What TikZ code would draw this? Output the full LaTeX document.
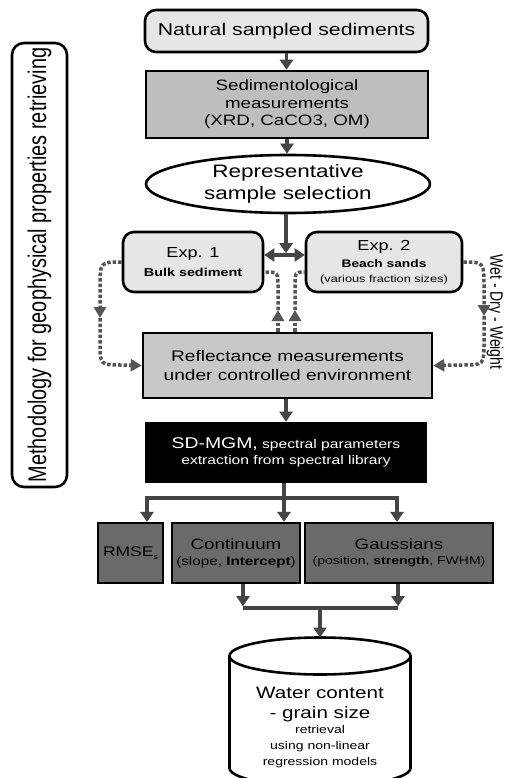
\documentclass[tikz,border=0pt]{standalone}
\usepackage{fontspec}
\usetikzlibrary{arrows.meta,shapes.geometric}
\newfontfamily\hfont[FakeStretch=1.25]{Liberation Sans}
\newfontfamily\vfont[FakeStretch=0.78]{Liberation Sans}
\newcommand\myfs[2]{\fontsize{#1}{#2}\selectfont}
\definecolor{lightfill}{HTML}{E6E6E6}
\definecolor{sedfill}{HTML}{BEBEBE}
\definecolor{reffill}{HTML}{C8C8C8}
\definecolor{darkfill}{HTML}{6A6A6A}
\definecolor{arrowgray}{HTML}{454545}
\definecolor{dashgray}{HTML}{555555}
\tikzset{
  box/.style={draw=black, line width=2.6pt, inner sep=0pt, align=center, text=black},
  lightbox/.style={box, fill=lightfill, rounded corners=11pt},
  graybox/.style={box, fill=sedfill},
  darkbox/.style={box, fill=darkfill, line width=2.2pt},
  blackbox/.style={box, fill=black, text=white},
  arr/.style={draw=arrowgray, line width=3.5pt, -{Triangle[length=10pt,width=13pt]}},
  arrboth/.style={draw=arrowgray, line width=3.5pt, {Triangle[length=10pt,width=13pt]}-{Triangle[length=10pt,width=13pt]}},
  plainline/.style={draw=arrowgray, line width=3.5pt},
  dsh/.style={draw=dashgray, line width=3.5pt, dash pattern=on 3.5pt off 2pt, -{Triangle[length=11pt,width=12pt]}},
  dshplain/.style={draw=dashgray, line width=3.5pt, dash pattern=on 3.5pt off 2pt},
}
\begin{document}
\begin{tikzpicture}[x=1pt,y=-1pt,font=\hfont]
\fill[white] (0,0) rectangle (505,778);
\useasboundingbox (0,0) rectangle (505,778);

% side label
\node[draw=black, line width=2.6pt, rounded corners=12pt, rotate=90, minimum width=444pt, minimum height=55pt, inner sep=0pt, font=\vfont\myfs{25.5}{30}] (meth) at (39.5,265) {Methodology for geophysical properties retrieving};

% main boxes
\node[lightbox, minimum width=283pt, minimum height=42pt, font=\hfont\myfs{17}{20}] (nat) at (286.5,31) {Natural sampled sediments};
\node[graybox, minimum width=282pt, minimum height=67pt, font=\hfont\myfs{15}{17.5}] (sed) at (287,104.5) {Sedimentological\\measurements\\(XRD, CaCO3, OM)};
\node[ellipse, box, fill=white, minimum width=284pt, minimum height=58pt, font=\hfont\myfs{18}{22}] (ell) at (288,184) {Representative\\sample selection};
\node[lightbox, minimum width=140pt, minimum height=60pt, font=\hfont\myfs{11.5}{19}] (exp1) at (193,262) {{\myfs{14.5}{17}Exp. 1}\\\textbf{Bulk sediment}};
\node[lightbox, minimum width=156pt, minimum height=60pt, font=\hfont\myfs{10.2}{15}] (exp2) at (384,262) {{\myfs{14.5}{17}Exp. 2}\\[2pt]{\myfs{11}{15}\bfseries Beach sands}\\(various fraction sizes)};
\node[graybox, fill=reffill, minimum width=289pt, minimum height=65pt, font=\hfont\myfs{15.3}{18.5}] (refl) at (287.5,365.5) {Reflectance measurements\\under controlled environment};
\node[blackbox, minimum width=280pt, minimum height=59pt, font=\hfont\myfs{12.5}{15.5}] (sd) at (286,452.5) {{\myfs{15.5}{18}SD-MGM,} spectral parameters\\extraction from spectral library};
\node[darkbox, minimum width=65pt, minimum height=60pt, font=\hfont\myfs{14}{16}] (rmse) at (130.5,553) {RMSE\raisebox{-3pt}{\myfs{7}{8}s}};
\node[darkbox, minimum width=128pt, minimum height=60pt, font=\hfont\myfs{12.2}{16}] (cont) at (236,553) {{\myfs{15}{17}Continuum}\\(slope, \textbf{Intercept})};
\node[darkbox, minimum width=188pt, minimum height=60pt, font=\hfont\myfs{11.2}{15}] (gau) at (399,553) {{\myfs{15}{17}Gaussians}\\(position, \textbf{strength}, FWHM)};

% cylinder
\fill[white] (229.5,656) -- (229.5,768) arc[start angle=180, end angle=0, x radius=90.5, y radius=18.5] -- (410.5,656) -- cycle;
\draw[line width=2.6pt] (229.5,656) -- (229.5,768) arc[start angle=180, end angle=0, x radius=90.5, y radius=18.5] -- (410.5,656);
\draw[fill=white, line width=2.6pt] (320,656) ellipse [x radius=90.5, y radius=18.5];
\coordinate (cyltop) at (320,637.5);
\node[align=center, inner sep=0pt, font=\hfont\myfs{11.2}{16}] (cyl) at (320,727) {{\myfs{16.5}{20}Water content}\\[4pt]{\myfs{16.5}{20}- grain size}\\[-1pt]retrieval\\using non-linear\\regression models};

% side text
\node[rotate=-90, inner sep=0pt, font=\vfont\myfs{18}{20}] (wdw) at (495,312) {Wet - Dry - Weight};

% solid connectors
\draw[arr] (nat.south) -- (nat.south |- sed.north);
\draw[arr] (sed.south) -- (sed.south |- ell.north);
\coordinate (m) at (286,255);
\draw[arr] (ell.south -| m) -- ([yshift=1.8pt]m);
\draw[arrboth] (exp1.east |- m) -- (exp2.west |- m);
\draw[arr] (refl.south -| sd.north) -- (sd.north);

\coordinate (bl) at (147,498);
\coordinate (bm) at (284,498);
\coordinate (brr) at (397,498);
\draw[arr] (sd.south -| bm) -- (bm |- cont.north);
\draw[arr] (bm) -- (bl) -- (bl |- rmse.north);
\draw[arr] (bm) -- (brr) -- (brr |- gau.north);

\coordinate (cl) at (243,608);
\coordinate (cr) at (398,608);
\coordinate (cm) at (320,608);
\draw[arr, shorten >=1.8pt] (cont.south -| cl) -- (cl);
\draw[arr, shorten >=1.8pt] (gau.south -| cr) -- (cr);
\draw[plainline] (cl) -- (cr);
\draw[arr] (cm) -- (cyltop);

% dashed connectors
\coordinate (la) at (100,318);
\draw[dsh] (exp1.west) .. controls (100,262) .. (100,288) -- (la);
\draw[dsh] (la) -- (100,342) .. controls (100,365) .. (122,365) -- (refl.west);
\coordinate (ra) at (484,316);
\draw[dsh] (exp2.east) .. controls (484,262) .. (484,288) -- (ra);
\draw[dsh] (ra) -- (484,342) .. controls (484,365) .. (462,365) -- (refl.east);
\coordinate (ila) at (278,310);
\draw[dsh] (refl.north -| ila) -- (ila);
\draw[dshplain] (ila) -- (278,288) .. controls (278,272) .. ([yshift=-10pt]exp1.east);
\coordinate (ira) at (295,310);
\draw[dsh] (refl.north -| ira) -- (ira);
\draw[dshplain] (ira) -- (295,288) .. controls (295,272) .. ([yshift=-10pt]exp2.west);
\end{tikzpicture}
\end{document}
